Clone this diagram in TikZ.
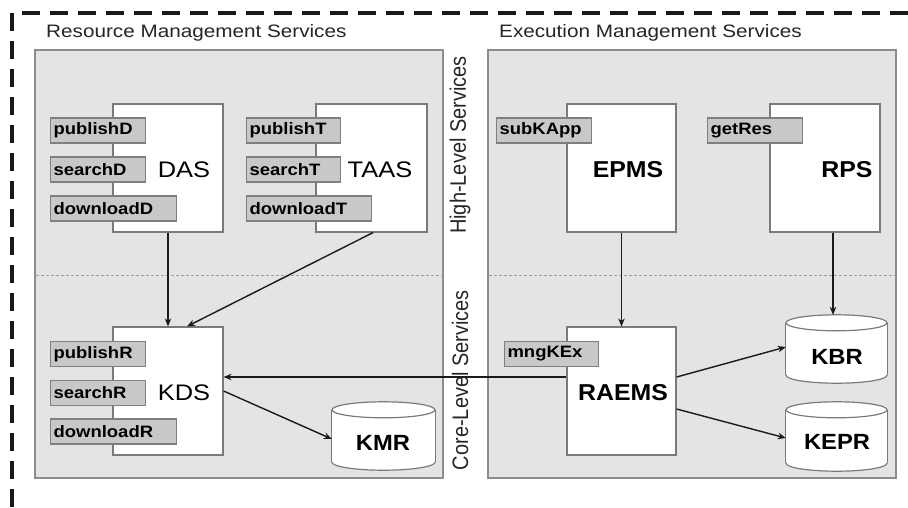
\documentclass[tikz,border=0pt]{standalone}
\usepackage{fontspec}
\setmainfont{Liberation Sans}
\usetikzlibrary{arrows.meta}
\newcommand{\hsx}[2][1.12]{\scalebox{#1}[1]{#2}}
\definecolor{panelfill}{HTML}{E4E4E4}
\definecolor{panelline}{HTML}{8C8C8C}
\definecolor{boxline}{HTML}{7A7A7A}
\definecolor{lblfill}{HTML}{C8C8C8}
\definecolor{lblline}{HTML}{7F7F7F}
\definecolor{conn}{HTML}{1A1A1A}
\tikzset{
  panel/.style={draw=panelline, fill=panelfill, line width=1.2pt},
  svcbox/.style={draw=boxline, fill=white, line width=1.2pt, rectangle, inner sep=0pt},
  lbl/.style={draw=lblline, fill=lblfill, line width=1.1pt, rectangle, anchor=west,
     minimum height=25pt, inner xsep=3pt, inner ysep=0pt, align=left,
     font=\fontsize{16.5}{18}\selectfont\bfseries},
  bigreg/.style={font=\fontsize{22.5}{26}\selectfont, inner sep=0pt},
  bigbold/.style={font=\fontsize{23}{26}\selectfont\bfseries, inner sep=0pt},
  dbtxt/.style={font=\fontsize{22}{26}\selectfont\bfseries, inner sep=0pt},
  ttl/.style={font=\fontsize{18}{20}\selectfont, inner sep=0pt, anchor=west, text=black!85},
  vttl/.style={font=\fontsize{20}{22}\selectfont, inner sep=0pt, rotate=90, text=black!85},
  dbnode/.style={rectangle, draw=none, inner sep=0pt},
  arr/.style={draw=conn, line width=1.4pt, -{Stealth[length=8pt,width=6.5pt]}},
  sep/.style={draw=gray!75, line width=1pt, dash pattern=on 3pt off 2pt},
}
\begin{document}
\begin{tikzpicture}[x=1pt, y=-1pt]
\useasboundingbox (0,0) rectangle (908,507);
\fill[white] (0,0) rectangle (908,507);

% outer dashed frame
\coordinate (fbl) at (12,507);
\coordinate (ftl) at (12,13);
\coordinate (ftr) at (908,13);
\draw[black!90, line width=3.2pt, dash pattern=on 18pt off 10pt] (fbl) -- (ftl) -- (ftr);

% panels
\node[panel, rectangle, minimum width=408pt, minimum height=428pt, inner sep=0pt] (lpanel) at (239,264) {};
\node[panel, rectangle, minimum width=408pt, minimum height=428pt, inner sep=0pt] (rpanel) at (692,264) {};

% separators
\coordinate (s1a) at (36,275); \coordinate (s1b) at (442,275);
\coordinate (s2a) at (489,275); \coordinate (s2b) at (895,275);
\draw[sep] (s1a) -- (s1b);
\draw[sep] (s2a) -- (s2b);

% titles
\node[ttl] (ttlL) at (46,33) {\hsx[1.15]{Resource Management Services}};
\node[ttl] (ttlR) at (499,33) {\hsx[1.15]{Execution Management Services}};
\node[vttl] (vhigh) at (460,145) {\scalebox{1}[1.12]{High-Level Services}};
\node[vttl] (vcore) at (460,380) {\scalebox{1}[1.12]{Core-Level Services}};

% service boxes
\node[svcbox, minimum width=110pt, minimum height=128pt] (das) at (168,168) {};
\node[svcbox, minimum width=111pt, minimum height=128pt] (taas) at (371.5,168) {};
\node[svcbox, minimum width=110pt, minimum height=128pt] (kds) at (168,391) {};
\node[svcbox, minimum width=109pt, minimum height=128pt] (epms) at (621.5,168) {};
\node[svcbox, minimum width=110pt, minimum height=128pt] (rps) at (825,168) {};
\node[svcbox, minimum width=109pt, minimum height=128pt] (raems) at (621.5,391) {};

% box texts
\node[bigreg] (dasT) at (184,170) {\hsx[1.13]{DAS}};
\node[bigreg] (taasT) at (380,170) {\hsx[1.13]{TAAS}};
\node[bigreg] (kdsT) at (184,393) {\hsx[1.13]{KDS}};
\node[bigbold] (epmsT) at (628,170) {\hsx[1.08]{EPMS}};
\node[bigbold] (rpsT) at (847,170) {\hsx[1.08]{RPS}};
\node[bigbold] (raemsT) at (623,393) {\hsx[1.08]{RAEMS}};

% labels
\node[lbl, minimum width=95pt, text width=89pt] (pubD) at (50,130.5) {\hsx{publishD}};
\node[lbl, minimum width=95pt, text width=89pt] (seaD) at (50,169.5) {\hsx{searchD}};
\node[lbl, minimum width=126pt, text width=120pt] (dowD) at (50,208.5) {\hsx{downloadD}};
\node[lbl, minimum width=94pt, text width=88pt] (pubT) at (246,130.5) {\hsx{publishT}};
\node[lbl, minimum width=94pt, text width=88pt] (seaT) at (246,169.5) {\hsx{searchT}};
\node[lbl, minimum width=125pt, text width=119pt] (dowT) at (246,208.5) {\hsx{downloadT}};
\node[lbl, minimum width=95pt, text width=89pt] (pubR) at (50,354) {\hsx{publishR}};
\node[lbl, minimum width=95pt, text width=89pt] (seaR) at (50,393) {\hsx{searchR}};
\node[lbl, minimum width=126pt, text width=120pt] (dowR) at (50,431.5) {\hsx{downloadR}};
\node[lbl, minimum width=95pt, text width=89pt] (subK) at (496,130.5) {\hsx{subKApp}};
\node[lbl, minimum width=95pt, text width=89pt] (getR) at (707,130.5) {\hsx{getRes}};
\node[lbl, minimum width=94pt, text width=88pt] (mngK) at (504,354) {\hsx{mngKEx}};

% cylinders (repositories)
\node[dbnode, minimum width=103pt, minimum height=68pt] (kmr) at (383.5,436) {};
\node[dbnode, minimum width=101pt, minimum height=68pt] (kbr) at (836.5,349) {};
\node[dbnode, minimum width=101pt, minimum height=69pt] (kepr) at (836.5,436.5) {};
\foreach \n/\hw in {kmr/51.5, kbr/50.5, kepr/50.5}{
  \path[fill=white, draw=boxline, line width=1.2pt]
    ([yshift=8pt]\n.south) ellipse [x radius=\hw, y radius=8];
  \fill[white] ([yshift=-8pt]\n.north west) rectangle ([yshift=8pt]\n.south east);
  \draw[boxline, line width=1.2pt] ([yshift=-8pt]\n.north west) -- ([yshift=8pt]\n.south west);
  \draw[boxline, line width=1.2pt] ([yshift=-8pt]\n.north east) -- ([yshift=8pt]\n.south east);
  \path[fill=white, draw=boxline, line width=1.2pt]
    ([yshift=-8pt]\n.north) ellipse [x radius=\hw, y radius=8];
}
\node[dbtxt] (kmrT) at (383,443) {\hsx[1.08]{KMR}};
\node[dbtxt] (kbrT) at (837,357) {\hsx[1.08]{KBR}};
\node[dbtxt] (keprT) at (837,442) {\hsx[1.08]{KEPR}};

% connectors
\draw[arr] (das.south) -- (kds.north);
\draw[arr] ([xshift=1.5pt]taas.south) -- ([xshift=19pt]kds.north);
\draw[arr] ([yshift=14pt]raems.west) -- ([yshift=14pt]kds.east);
\draw[arr] (kds.east) -- ([yshift=-3pt]kmr.west);
\draw[arr] (epms.south) -- (raems.north);
\draw[arr] ([xshift=8pt]rps.south) -- ([xshift=-3.5pt]kbr.north);
\draw[arr] ([yshift=14pt]raems.east) -- ([yshift=2pt]kbr.west);
\draw[arr] ([yshift=-18pt]raems.east) -- ([yshift=-1.5pt]kepr.west);
\end{tikzpicture}
\end{document}
